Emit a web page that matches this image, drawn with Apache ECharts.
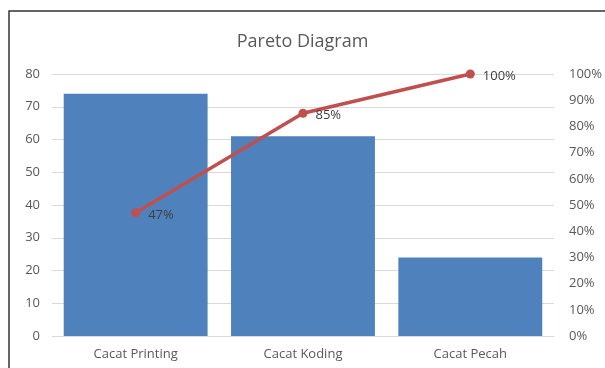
<!DOCTYPE html>
<html>
<head>
<meta charset="utf-8">
<script src="https://cdn.jsdelivr.net/npm/echarts@6/dist/echarts.min.js"></script>
<style>
  html, body { margin: 0; padding: 0; background: #fff; }
  #chart { width: 605px; height: 368px; }
</style>
</head>
<body>
<div id="chart"></div>
<script>
// Defect categories and their counts
const categories = ['Cacat Printing', 'Cacat Koding', 'Cacat Pecah'];
const counts = [74, 61, 24];
// Cumulative share in percent, as labelled on the line
const cumulativePct = [47, 85, 100];
const leftTicks = [0, 10, 20, 30, 40, 50, 60, 70, 80];
const rightTicks = [0, 10, 20, 30, 40, 50, 60, 70, 80, 90, 100];

const textColor = '#595959';
const fontFamily = '"Open Sans", "Liberation Sans", sans-serif';

const chart = echarts.init(document.getElementById('chart'), null, { renderer: 'canvas' });
chart.setOption({
  animation: false,
  backgroundColor: '#fff',
  textStyle: { fontFamily },
  title: {
    text: 'Pareto Diagram',
    left: 'center',
    top: 28,
    textStyle: { fontSize: 18, fontWeight: 'normal', color: textColor, fontFamily }
  },
  graphic: [{
    type: 'rect',
    shape: { x: 9, y: 11, width: 700, height: 500 },
    style: { fill: 'none', stroke: '#333', lineWidth: 1.5 },
    silent: true
  }],
  grid: { left: 52, right: 47, top: 74, bottom: 32, containLabel: false },
  xAxis: {
    type: 'category',
    data: categories,
    axisLine: { show: true, lineStyle: { color: '#d9d9d9', width: 1 } },
    axisTick: { show: false },
    axisLabel: { color: textColor, fontSize: 13, margin: 12, fontFamily }
  },
  yAxis: [{
    type: 'value',
    min: leftTicks[0],
    max: leftTicks[leftTicks.length - 1],
    interval: 10,
    axisLine: { show: false },
    axisTick: { show: false },
    axisLabel: { color: textColor, fontSize: 13, margin: 12, fontFamily },
    splitLine: { lineStyle: { color: '#d9d9d9', width: 1 } }
  }, {
    type: 'value',
    min: rightTicks[0],
    max: rightTicks[rightTicks.length - 1],
    interval: 10,
    position: 'right',
    axisLine: { show: false },
    axisTick: { show: false },
    axisLabel: { color: textColor, fontSize: 13, margin: 15, formatter: '{value}%', fontFamily },
    splitLine: { show: false }
  }],
  series: [{
    type: 'bar',
    data: counts,
    barWidth: '86%',
    itemStyle: { color: '#4F81BD' },
    z: 2
  }, {
    type: 'line',
    yAxisIndex: 1,
    data: cumulativePct,
    symbol: 'circle',
    symbolSize: 9,
    lineStyle: { color: '#C0504D', width: 3.5 },
    itemStyle: { color: '#C0504D' },
    label: {
      show: true,
      position: 'right',
      distance: 8,
      offset: [0, 2],
      formatter: '{c}%',
      color: '#404040',
      fontSize: 13,
      fontFamily
    },
    z: 3
  }]
});
</script>
</body>
</html>
